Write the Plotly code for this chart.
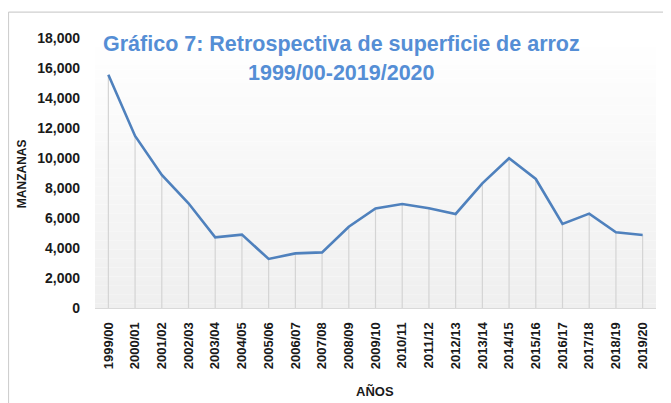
import plotly.graph_objects as go

# ---- data ----
categories = ["1999/00", "2000/01", "2001/02", "2002/03", "2003/04", "2004/05",
              "2005/06", "2006/07", "2007/08", "2008/09", "2009/10", "2010/11",
              "2011/12", "2012/13", "2013/14", "2014/15", "2015/16", "2016/17",
              "2017/18", "2018/19", "2019/20"]
manzanas = [15550, 11470, 8870, 6980, 4710, 4890, 3270, 3640, 3710, 5420,
            6640, 6930, 6650, 6270, 8310, 9980, 8600, 5600, 6290, 5050, 4870]
y_ticks = [0, 2000, 4000, 6000, 8000, 10000, 12000, 14000, 16000, 18000]
y_tick_labels = ["0", "2,000", "4,000", "6,000", "8,000", "10,000", "12,000",
                 "14,000", "16,000", "18,000"]
title_line1 = "Gráfico 7: Retrospectiva de superficie de arroz"
title_line2 = "1999/00-2019/2020"
x_title = "AÑOS"
y_title = "MANZANAS"

FONT = "Liberation Sans"
TITLE_COLOR = "#558ED5"
LINE_COLOR = "#4F81BD"

fig = go.Figure()

# drop lines (from each point down to the axis)
fig.add_trace(go.Scatter(
    x=categories, y=manzanas, mode="markers",
    marker=dict(size=0.1, color="rgba(0,0,0,0)"),
    error_y=dict(type="data", symmetric=False, array=[0] * len(manzanas),
                 arrayminus=manzanas, color="#d4d4d4", thickness=1.2, width=0),
    hoverinfo="skip", showlegend=False,
))

# main line
fig.add_trace(go.Scatter(
    x=categories, y=manzanas, mode="lines",
    line=dict(color=LINE_COLOR, width=2.6),
    showlegend=False,
))

# gradient background for plot area
shapes = []
n = 60
for i in range(n):
    t = i / (n - 1)
    v = int(round(239 + (255 - 239) * t))
    shapes.append(dict(type="rect", xref="x domain", yref="y domain",
                       x0=0, x1=1, y0=i / n, y1=(i + 1) / n,
                       fillcolor=f"rgb({v},{v},{v})", line=dict(width=0),
                       layer="below"))
# chart border (left and top edges visible)
shapes.append(dict(type="line", xref="paper", yref="paper",
                   x0=-0.1542, x1=-0.1542, y0=1.096, y1=-2,
                   line=dict(color="#cfcfcf", width=1.2)))
shapes.append(dict(type="line", xref="paper", yref="paper",
                   x0=-0.1542, x1=2, y0=1.096, y1=1.096,
                   line=dict(color="#cfcfcf", width=1.2)))

annotations = [
    dict(text=f"<b>{title_line1}</b>", xref="paper", yref="paper",
         x=0.44, y=0.978, xanchor="center", yanchor="middle", showarrow=False,
         font=dict(family=FONT, size=21.5, color=TITLE_COLOR)),
    dict(text=f"<b>{title_line2}</b>", xref="paper", yref="paper",
         x=0.44, y=0.870, xanchor="center", yanchor="middle", showarrow=False,
         font=dict(family=FONT, size=21.5, color=TITLE_COLOR)),
    dict(text=f"<b>{x_title}</b>", xref="paper", yref="paper",
         x=0.4986, y=-0.311, xanchor="center", yanchor="middle", showarrow=False,
         font=dict(family=FONT, size=13, color="#1a1a1a")),
    dict(text=f"<b>{y_title}</b>", xref="paper", yref="paper",
         x=-0.130, y=0.496, xanchor="center", yanchor="middle", showarrow=False,
         textangle=-90, font=dict(family=FONT, size=12, color="#1a1a1a")),
]

# the page has an 8px body margin, so the figure is sized/margined to compensate
fig.update_layout(
    width=663, height=395,
    margin=dict(l=87, r=15, t=30, b=95),
    paper_bgcolor="white", plot_bgcolor="white",
    font=dict(family=FONT, color="#1a1a1a"),
    shapes=shapes, annotations=annotations,
    showlegend=False,
)
fig.update_xaxes(
    type="category", range=[-0.5, len(categories) - 0.5],
    showgrid=False, zeroline=False,
    showline=True, linecolor="#d9d9d9", linewidth=1.2,
    ticks="", tickangle=-90, ticklabelstandoff=8,
    tickfont=dict(family=FONT, size=13, color="#1a1a1a"),
    tickprefix="<b>", ticksuffix="</b>",
)
fig.update_yaxes(
    range=[0, 18000], tickvals=y_ticks, ticktext=[f"<b>{t}</b>" for t in y_tick_labels],
    showgrid=False, zeroline=False, showline=False,
    ticks="", ticklabelstandoff=14,
    tickfont=dict(family=FONT, size=14, color="#1a1a1a"),
)

fig.write_html("out.html")
